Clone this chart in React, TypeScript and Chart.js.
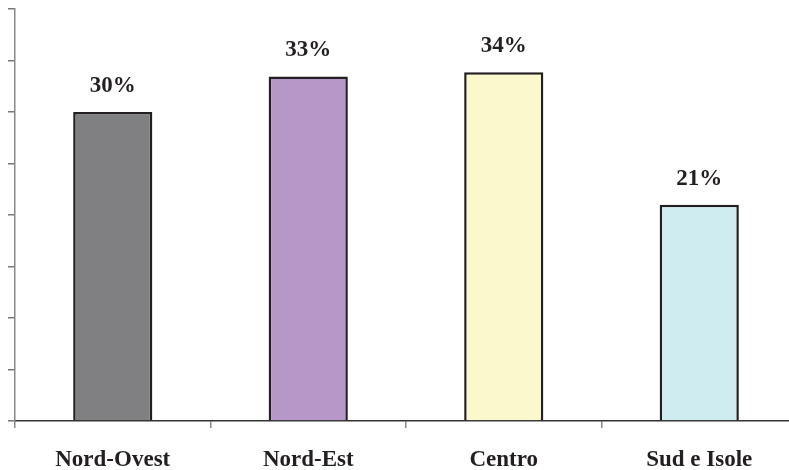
import React, { useEffect, useRef } from "react";
import { Chart, registerables } from "chart.js";

Chart.register(...registerables);

const categories = ["Nord-Ovest", "Nord-Est", "Centro", "Sud e Isole"];
const values = [30.0, 33.45, 33.85, 21.0];
const valueLabels = ["30%", "33%", "34%", "21%"];
const barColors = ["#808083", "#b797c8", "#fbf8cc", "#cfecf0"];

const FONT = '"Liberation Serif", "DejaVu Serif", serif';

const labelPlugin = {
  id: "valueLabels",
  afterDatasetsDraw(chart: any) {
    const ctx = chart.ctx;
    const meta = chart.getDatasetMeta(0);
    ctx.save();
    ctx.font = `bold 23px ${FONT}`;
    ctx.fillStyle = "#231f20";
    ctx.textAlign = "center";
    ctx.textBaseline = "middle";
    meta.data.forEach((bar: any, i: number) => {
      ctx.fillText(valueLabels[i], bar.x, bar.y - 26);
    });
    ctx.restore();
  },
};

export default function App() {
  const ref = useRef<HTMLCanvasElement | null>(null);
  useEffect(() => {
    if (!ref.current) return;
    const chart = new Chart(ref.current, {
      type: "bar",
      data: {
        labels: categories,
        datasets: [
          {
            data: values,
            backgroundColor: barColors,
            borderColor: "#231f20",
            borderWidth: 2.5,
            barPercentage: 0.405,
            categoryPercentage: 1.0,
          },
        ],
      },
      options: {
        animation: false,
        responsive: false,
        maintainAspectRatio: false,
        layout: { padding: { left: 8, top: 9, right: 0, bottom: -23 } },
        plugins: { legend: { display: false }, tooltip: { enabled: false } },
        scales: {
          x: {
            grid: {
              offset: true,
              drawOnChartArea: false,
              drawTicks: true,
              tickLength: 7,
              tickColor: "#888888",
              lineWidth: 1.5,
            },
            border: { color: "#333333", width: 1.5 },
            ticks: {
              padding: 21,
              color: "#231f20",
              font: { family: FONT, size: 23, weight: "bold", lineHeight: 1.0 },
            },
          },
          y: {
            min: 0,
            max: 40,
            ticks: { display: false, stepSize: 5 },
            grid: {
              drawOnChartArea: false,
              drawTicks: true,
              tickLength: 7,
              tickColor: "#777777",
              lineWidth: 1.5,
            },
            border: { color: "#888888", width: 1.5 },
          },
        },
      },
      plugins: [labelPlugin],
    });
    return () => chart.destroy();
  }, []);
  return (
    <div
      style={{
        position: "fixed",
        left: 0,
        top: 0,
        width: 789,
        height: 470,
        overflow: "hidden",
        background: "#ffffff",
      }}
    >
      <canvas ref={ref} width={797} height={470} style={{ display: "block", width: 797, height: 470 }} />
    </div>
  );
}
